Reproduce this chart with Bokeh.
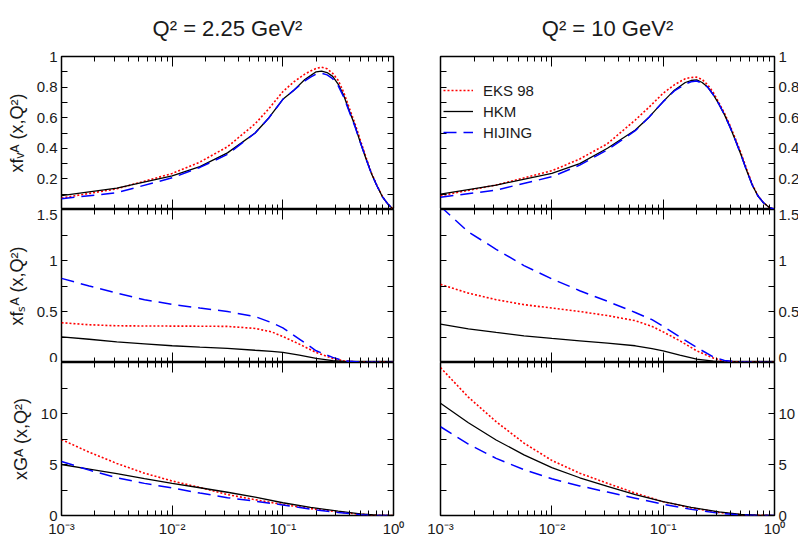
from bokeh.plotting import figure
from bokeh.models import LinearAxis, LogAxis, FixedTicker, Range1d, Legend, LegendItem
from bokeh.layouts import column, row
from bokeh.embed import file_html
from bokeh.resources import INLINE

FONT = "Liberation Sans"

titles = ["Q\u00b2 = 2.25 GeV\u00b2", "Q\u00b2 = 10 GeV\u00b2"]
y_titles = ["xf\u1d65\u1d2c (x,Q\u00b2)", "xf\u209b\u1d2c (x,Q\u00b2)", "xG\u1d2c (x,Q\u00b2)"]
series_names = ["EKS 98", "HKM", "HIJING"]

# ---- x grids (values of x)
x_top = [0.001, 0.00316, 0.01, 0.0178, 0.0316, 0.0562, 0.075, 0.1, 0.126, 0.158, 0.178,
         0.2, 0.224, 0.251, 0.282, 0.316, 0.355, 0.398, 0.447, 0.501, 0.562, 0.631,
         0.708, 0.794, 0.891, 1.0]
x_mid = [0.001, 0.00178, 0.00316, 0.00562, 0.01, 0.0178, 0.0316, 0.0562, 0.0794,
         0.1, 0.141, 0.2, 0.282, 0.355, 0.501, 1.0]
x_bot = [0.001, 0.00178, 0.00316, 0.00562, 0.01, 0.0178, 0.0316, 0.0562, 0.1,
         0.178, 0.316, 0.501, 0.708, 1.0]

# ---- valence, Q2 = 2.25
val_eks_1 = [0.075, 0.135, 0.235, 0.31, 0.41, 0.56, 0.66, 0.77, 0.835, 0.885, 0.905, 0.922, 0.93,
             0.92, 0.89, 0.845, 0.765, 0.665, 0.565, 0.455, 0.345, 0.24, 0.158, 0.085, 0.035, 0.0]
val_hkm_1 = [0.09, 0.14, 0.22, 0.28, 0.37, 0.50, 0.60, 0.72, 0.78, 0.85, 0.875, 0.90, 0.905,
             0.895, 0.87, 0.82, 0.745, 0.645, 0.55, 0.44, 0.335, 0.236, 0.155, 0.083, 0.035, 0.0]
val_hij_1 = [0.07, 0.11, 0.207, 0.275, 0.36, 0.50, 0.60, 0.72, 0.78, 0.84, 0.865, 0.885, 0.89,
             0.88, 0.855, 0.81, 0.735, 0.64, 0.545, 0.44, 0.335, 0.236, 0.155, 0.083, 0.035, 0.0]
# ---- valence, Q2 = 10
val_eks_2 = [0.09, 0.16, 0.253, 0.33, 0.43, 0.585, 0.67, 0.76, 0.815, 0.855, 0.863, 0.865, 0.85,
             0.815, 0.765, 0.70, 0.63, 0.55, 0.46, 0.367, 0.265, 0.165, 0.092, 0.045, 0.015, 0.0]
val_hkm_2 = [0.10, 0.16, 0.236, 0.30, 0.40, 0.52, 0.605, 0.705, 0.78, 0.83, 0.843, 0.847, 0.83,
             0.80, 0.75, 0.69, 0.62, 0.54, 0.45, 0.356, 0.255, 0.16, 0.09, 0.045, 0.015, 0.0]
val_hij_2 = [0.08, 0.127, 0.214, 0.29, 0.39, 0.515, 0.605, 0.705, 0.775, 0.82, 0.835, 0.84, 0.825,
             0.80, 0.75, 0.69, 0.62, 0.54, 0.45, 0.356, 0.255, 0.16, 0.09, 0.045, 0.015, 0.0]

# ---- sea, Q2 = 2.25
sea_eks_1 = [0.39, 0.37, 0.36, 0.358, 0.357, 0.356, 0.354, 0.334, 0.30, 0.255, 0.18, 0.098, 0.04, 0.016, 0.003, 0.0]
sea_hkm_1 = [0.252, 0.228, 0.203, 0.183, 0.164, 0.15, 0.138, 0.12, 0.11, 0.10, 0.072, 0.04, 0.018, 0.01, 0.003, 0.0]
sea_hij_1 = [0.825, 0.75, 0.68, 0.615, 0.57, 0.534, 0.50, 0.45, 0.39, 0.34, 0.23, 0.115, 0.05, 0.016, 0.003, 0.0]
# ---- sea, Q2 = 10
sea_eks_2 = [0.766, 0.68, 0.616, 0.567, 0.534, 0.50, 0.46, 0.41, 0.354, 0.30, 0.213, 0.115, 0.043, 0.013, 0.002, 0.0]
sea_hkm_2 = [0.377, 0.33, 0.295, 0.262, 0.236, 0.213, 0.19, 0.164, 0.135, 0.115, 0.072, 0.033, 0.013, 0.006, 0.002, 0.0]
sea_hij_2 = [1.53, 1.28, 1.11, 0.95, 0.82, 0.704, 0.60, 0.49, 0.42, 0.354, 0.252, 0.147, 0.055, 0.02, 0.003, 0.0]

# ---- gluon, Q2 = 2.25
glu_eks_1 = [7.45, 6.2, 5.1, 4.15, 3.38, 2.75, 2.05, 1.55, 1.08, 0.68, 0.35, 0.12, 0.03, 0.0]
glu_hkm_1 = [5.0, 4.55, 4.1, 3.62, 3.15, 2.72, 2.28, 1.8, 1.25, 0.8, 0.42, 0.15, 0.04, 0.0]
glu_hij_1 = [5.3, 4.45, 3.7, 3.15, 2.7, 2.2, 1.75, 1.4, 1.04, 0.62, 0.3, 0.08, 0.02, 0.0]
# ---- gluon, Q2 = 10
glu_eks_2 = [14.5, 11.6, 9.2, 7.1, 5.4, 4.15, 3.15, 2.2, 1.35, 0.75, 0.3, 0.08, 0.02, 0.0]
glu_hkm_2 = [11.0, 9.1, 7.4, 5.95, 4.7, 3.7, 2.85, 2.05, 1.35, 0.8, 0.35, 0.1, 0.03, 0.0]
glu_hij_2 = [8.7, 7.0, 5.6, 4.5, 3.6, 2.9, 2.3, 1.7, 1.1, 0.6, 0.22, 0.05, 0.01, 0.0]

# ---- ticks
x_major = [0.001, 0.01, 0.1, 1.0]
x_minor = [m * d for d in (0.001, 0.01, 0.1) for m in range(2, 10)]
x_tick_labels = ["10\u207b\u00b3", "10\u207b\u00b2", "10\u207b\u00b9", "10\u2070"]

y_ranges = [(0, 1), (0, 1.5), (0, 15)]
y_major = [[0.2, 0.4, 0.6, 0.8, 1.0], [0, 0.5, 1.0, 1.5], [0, 5, 10]]
y_minor = [[0.1, 0.3, 0.5, 0.7, 0.9], [0.25, 0.75, 1.25], [2.5, 7.5, 12.5]]
y_tick_labels = [["0.2", "0.4", "0.6", "0.8", "1"], ["0", "0.5", "1", "1.5"], ["0", "5", "10"]]

data = [
    [(x_top, val_eks_1, val_hkm_1, val_hij_1), (x_top, val_eks_2, val_hkm_2, val_hij_2)],
    [(x_mid, sea_eks_1, sea_hkm_1, sea_hij_1), (x_mid, sea_eks_2, sea_hkm_2, sea_hij_2)],
    [(x_bot, glu_eks_1, glu_hkm_1, glu_hij_1), (x_bot, glu_eks_2, glu_hkm_2, glu_hij_2)],
]

styles = [
    dict(line_color="#ff0000", line_width=1.6, line_dash="2 2"),
    dict(line_color="#000000", line_width=1.3),
    dict(line_color="#0000ff", line_width=1.5, line_dash="13 7"),
]

FRAME_W = [332, 334]
FRAME_H = 153
BORDERS_LR = [(61, 23), (24, 24)]


def base_axis(ax):
    ax.axis_line_color = None
    ax.major_tick_out = 0
    ax.minor_tick_out = 0
    ax.major_tick_line_color = "black"
    ax.minor_tick_line_color = "black"
    ax.major_tick_line_width = 1
    ax.minor_tick_line_width = 1
    ax.major_label_text_font = FONT
    ax.major_label_text_font_size = "15px"
    ax.major_label_text_color = "#1a1a1a"
    ax.major_label_standoff = 4


def labelled_axis(cls, ticks, minor, labels, tick_in, minor_in):
    ax = cls(ticker=FixedTicker(ticks=ticks, minor_ticks=minor),
             major_label_overrides=dict(zip(ticks, labels)))
    base_axis(ax)
    ax.major_tick_in = tick_in
    ax.minor_tick_in = minor_in
    return ax


def tick_only_axis(cls, positions, length):
    # axis that shows only inward tick marks (drawn as minor ticks), no labels
    ax = cls(ticker=FixedTicker(ticks=[], minor_ticks=positions))
    base_axis(ax)
    ax.major_label_standoff = 0
    ax.major_tick_in = 0
    ax.minor_tick_in = length
    return ax


rows = []
for r in range(3):
    figs = []
    for c in range(2):
        top = 55 if r == 0 else 0
        bottom = 24 if r == 2 else 0
        bl, br = BORDERS_LR[c]
        p = figure(frame_width=FRAME_W[c], frame_height=FRAME_H,
                   x_axis_type="log", x_range=Range1d(0.001, 1.0),
                   y_range=Range1d(*y_ranges[r]),
                   x_axis_location=None, y_axis_location=None,
                   output_backend="svg", toolbar_location=None,
                   min_border_left=bl, min_border_right=br,
                   min_border_top=top, min_border_bottom=bottom)
        p.xgrid.visible = False
        p.ygrid.visible = False
        p.outline_line_color = "black"
        p.outline_line_width = 1.5
        p.background_fill_color = "white"
        p.border_fill_color = "white"

        # bottom x axis
        if r == 2:
            p.add_layout(labelled_axis(LogAxis, x_major, x_minor, x_tick_labels, 10, 5), "below")
        else:
            p.add_layout(tick_only_axis(LogAxis, x_major, 10), "below")
            p.add_layout(tick_only_axis(LogAxis, x_minor, 5), "below")
        # top x axis (ticks only)
        p.add_layout(tick_only_axis(LogAxis, x_major, 10), "above")
        p.add_layout(tick_only_axis(LogAxis, x_minor, 5), "above")
        # y axes
        all_y = sorted(y_major[r] + y_minor[r])
        lab_ax = labelled_axis(LinearAxis, y_major[r], y_minor[r], y_tick_labels[r], 6, 6)
        if c == 0:
            lab_ax.axis_label = y_titles[r]
            lab_ax.axis_label_text_font = FONT
            lab_ax.axis_label_text_font_size = "18px"
            lab_ax.axis_label_text_font_style = "normal"
            lab_ax.axis_label_text_color = "#1a1a1a"
            lab_ax.axis_label_standoff = 7
            p.add_layout(lab_ax, "left")
            p.add_layout(tick_only_axis(LinearAxis, all_y, 6), "right")
        else:
            p.add_layout(tick_only_axis(LinearAxis, all_y, 6), "left")
            p.add_layout(lab_ax, "right")

        xs, e, h, j = data[r][c]
        rends = []
        for ys, st in zip((e, h, j), styles):
            rends.append(p.line(xs, ys, **st))

        if r == 0:
            p.title.text = titles[c]
            p.title.align = "center"
            p.title.vertical_align = "middle"
            p.title.text_font = FONT
            p.title.text_font_size = "22px"
            p.title.text_font_style = "normal"
            p.title.text_color = "#1a1a1a"
            p.title.standoff = 29

        if r == 0 and c == 1:
            legend = Legend(items=[LegendItem(label=n, renderers=[rd]) for n, rd in zip(series_names, rends)],
                            location=(3, 67), background_fill_alpha=0, border_line_color=None,
                            padding=0, margin=0, spacing=1, glyph_width=30, glyph_height=20,
                            label_height=20, label_standoff=10,
                            label_text_font=FONT, label_text_font_size="15px",
                            label_text_color="#1a1a1a")
            p.add_layout(legend)
        figs.append(p)
    rows.append(row(*figs))

layout = column(*rows)
open("out.html", "w").write(file_html(layout, INLINE))
